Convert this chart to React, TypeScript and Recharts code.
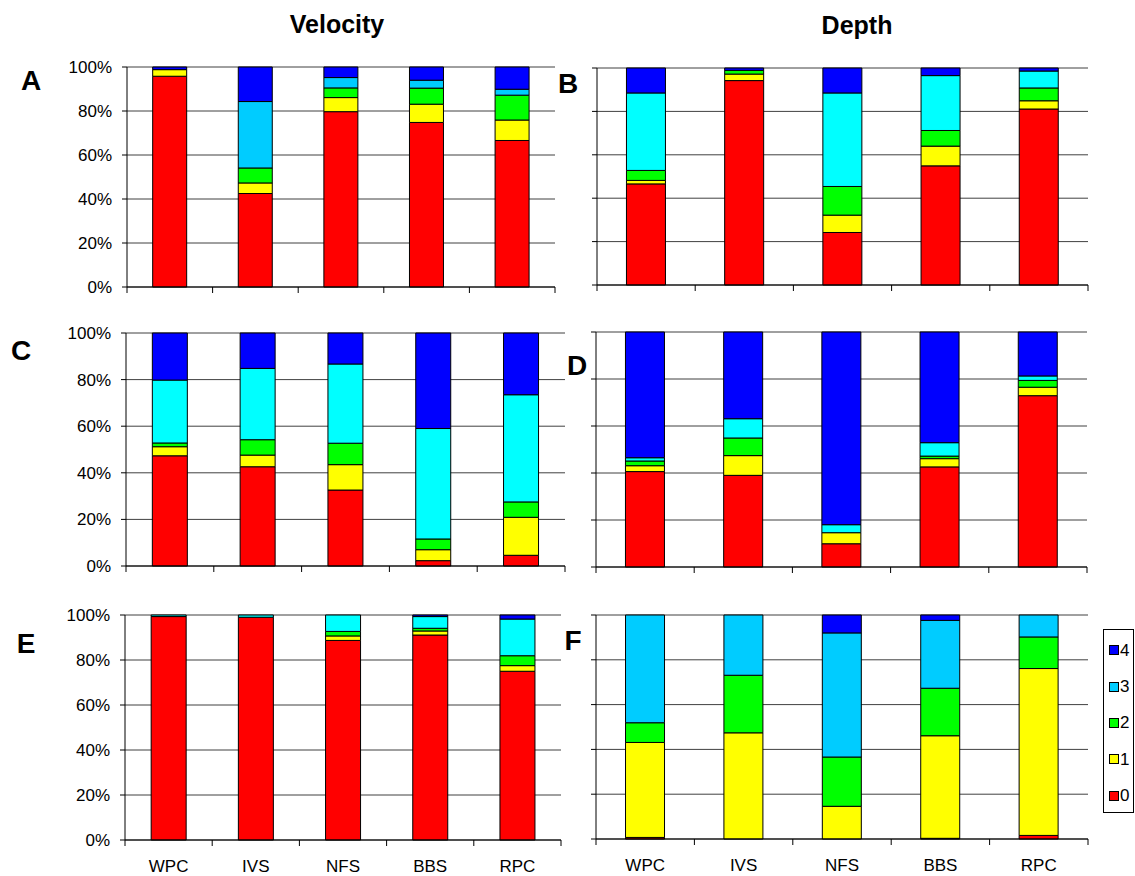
import React from "react"
import { BarChart, Bar, XAxis, YAxis, CartesianGrid, Legend } from "recharts"

const FONT = "Arial, 'Liberation Sans', Helvetica, sans-serif"

const sites = ["WPC", "IVS", "NFS", "BBS", "RPC"]
const classes = ["0", "1", "2", "3", "4"]

// rows = class 0..4, columns = sites (percent of observations)
const velocityTop = [
  [95.8, 42.5, 79.7, 74.8, 66.6],
  [3.0, 4.8, 6.4, 8.3, 9.3],
  [0, 6.8, 4.4, 7.3, 11.3],
  [0, 30.2, 4.7, 3.6, 2.7],
  [1.2, 15.7, 4.8, 6.0, 10.1],
]
const depthTop = [
  [46.6, 94.2, 24.2, 54.9, 81.1],
  [1.6, 3.0, 8.0, 9.1, 3.8],
  [4.6, 1.7, 13.2, 7.2, 5.9],
  [35.7, 0, 43.1, 25.3, 7.8],
  [11.5, 1.1, 11.5, 3.5, 1.4],
]
const velocityMid = [
  [47.3, 42.6, 32.6, 2.3, 4.6],
  [3.9, 5.0, 10.9, 4.7, 16.3],
  [1.6, 6.6, 9.2, 4.6, 6.6],
  [27.0, 30.6, 34.0, 47.4, 46.0],
  [20.2, 15.2, 13.3, 41.0, 26.5],
]
const depthMid = [
  [40.6, 39.0, 9.9, 42.6, 72.9],
  [2.5, 8.4, 4.7, 3.5, 3.6],
  [2.0, 7.5, 0, 1.1, 2.9],
  [1.4, 8.2, 3.4, 5.7, 1.9],
  [53.5, 36.9, 82.0, 47.1, 18.7],
]
const velocityLow = [
  [99.3, 99.0, 88.7, 91.1, 75.0],
  [0, 0, 2.0, 1.8, 2.5],
  [0, 0, 2.0, 1.2, 4.4],
  [0.7, 1.0, 7.3, 5.2, 16.3],
  [0, 0, 0, 0.7, 1.8],
]
const depthLow = [
  [0.7, 0, 0, 0.3, 1.6],
  [42.4, 47.4, 14.6, 45.8, 74.5],
  [8.8, 25.7, 22.0, 21.2, 14.1],
  [48.1, 26.9, 55.4, 30.3, 9.8],
  [0, 0, 8.0, 2.4, 0],
]

const yTicks = [0, 0.2, 0.4, 0.6, 0.8, 1]

const cyanColors = ["#ff0000", "#ffff00", "#00ff00", "#00ffff", "#0000ff"]
const skyColors = ["#ff0000", "#ffff00", "#00ff00", "#00ccff", "#0000ff"]

function toRows(values: number[][]) {
  return sites.map((site, i) => {
    const row: Record<string, string | number> = { site }
    classes.forEach((c, k) => {
      row["c" + c] = values[k][i]
    })
    return row
  })
}

function BoundaryTick(props: any) {
  const { x, y, payload, index, visibleTicksCount, showLabel, width } = props
  const half =
    payload && typeof payload.offset === "number" && payload.offset > 0
      ? payload.offset
      : width / visibleTicksCount / 2
  const last = index === visibleTicksCount - 1
  return (
    <g>
      <line x1={x - half} x2={x - half} y1={y} y2={y + 6} stroke="#000" />
      {last && <line x1={x + half} x2={x + half} y1={y} y2={y + 6} stroke="#000" />}
      {showLabel && (
        <text x={x} y={y + 32} textAnchor="middle" fontSize={17} fontFamily={FONT} fill="#000">
          {payload.value}
        </text>
      )}
    </g>
  )
}

function LegendBox(props: any) {
  const items = [...(props.payload ?? [])].reverse()
  return (
    <div style={{ width: 46, paddingLeft: 15, boxSizing: "border-box" }}>
      <div
        style={{
          border: "1px solid #000",
          width: 31,
          height: 184,
          boxSizing: "border-box",
          paddingTop: 2,
          background: "#fff",
          fontFamily: FONT,
          fontSize: 17,
        }}
      >
        {items.map((item: any) => (
          <div key={item.value} style={{ height: 36.4, display: "flex", alignItems: "center", paddingLeft: 5 }}>
            <span
              style={{
                display: "inline-block",
                width: 10,
                height: 10,
                background: item.color,
                border: "1px solid #000",
                boxSizing: "border-box",
                marginRight: 1,
                flexShrink: 0,
              }}
            />
            <span style={{ fontSize: 17, lineHeight: "17px", color: "#000" }}>{item.value}</span>
          </div>
        ))}
      </div>
    </div>
  )
}

type Box = { left: number; right: number; top: number; bottom: number }

function Panel({
  values,
  colors,
  box,
  yLabels,
  xLabels,
  legend,
}: {
  values: number[][]
  colors: string[]
  box: Box
  yLabels?: boolean
  xLabels?: boolean
  legend?: boolean
}) {
  const yW = yLabels ? 70 : 10
  const xH = xLabels ? 40 : 10
  const legendW = legend ? 46 : 0
  const mRight = legend ? 1 : 5
  const top = box.top - 10
  const left = box.left - yW
  const width = box.right - left + legendW + mRight
  const height = box.bottom - top + xH + 5
  const data = toRows(values)

  return (
    <div style={{ position: "absolute", left, top }}>
      <BarChart
        width={width}
        height={height}
        data={data}
        stackOffset="expand"
        barCategoryGap="30%"
        margin={{ top: 10, right: mRight, bottom: 5, left: 0 }}
      >
        <CartesianGrid vertical={false} stroke="#404040" />
        <XAxis
          dataKey="site"
          interval={0}
          height={xH}
          tickLine={false}
          tickSize={0}
          tickMargin={0}
          axisLine={{ stroke: "#000" }}
          tick={<BoundaryTick showLabel={!!xLabels} />}
        />
        <YAxis
          width={yW}
          domain={[0, 1]}
          ticks={yTicks}
          tickSize={5}
          tickMargin={10}
          axisLine={{ stroke: "#000" }}
          tickLine={{ stroke: "#000" }}
          tick={{ fontSize: 17, fill: "#000", fontFamily: FONT }}
          tickFormatter={(v: number) => (yLabels ? `${Math.round(v * 100)}%` : "")}
        />
        <YAxis
          yAxisId="border"
          orientation="right"
          width={0}
          domain={[0, 1]}
          tick={false}
          tickLine={false}
          axisLine={{ stroke: "#a0a0a0" }}
        />
        {legend && (
          <Legend
            layout="vertical"
            align="right"
            verticalAlign="top"
            wrapperStyle={{ top: 24 }}
            content={<LegendBox />}
          />
        )}
        {classes.map((c, k) => (
          <Bar
            key={c}
            dataKey={"c" + c}
            name={c}
            stackId="s"
            fill={legend ? skyColors[k] : colors[k]}
            stroke="#000"
            strokeWidth={1}
            isAnimationActive={false}
          />
        ))}
      </BarChart>
    </div>
  )
}

export default function App() {
  return (
    <div
      style={{
        position: "absolute",
        left: 0,
        top: 0,
        width: 1135,
        height: 876,
        background: "#fff",
        fontFamily: FONT,
      }}
    >
      <Panel values={velocityTop} colors={skyColors} box={{ left: 127, right: 555, top: 67, bottom: 287 }} yLabels />
      <Panel values={depthTop} colors={cyanColors} box={{ left: 597, right: 1088, top: 68, bottom: 285 }} />
      <Panel values={velocityMid} colors={cyanColors} box={{ left: 126, right: 565, top: 333, bottom: 566 }} yLabels />
      <Panel values={depthMid} colors={cyanColors} box={{ left: 596, right: 1087, top: 332, bottom: 567 }} />
      <Panel values={velocityLow} colors={cyanColors} box={{ left: 125, right: 561, top: 615, bottom: 840 }} yLabels xLabels />
      <Panel values={depthLow} colors={skyColors} box={{ left: 596, right: 1088, top: 615, bottom: 839 }} xLabels legend />

      <svg
        width={1135}
        height={876}
        style={{ position: "absolute", left: 0, top: 0, pointerEvents: "none" }}
        fontFamily={FONT}
        fontWeight="bold"
      >
        <text x={337} y={33} fontSize={25} textAnchor="middle">Velocity</text>
        <text x={857} y={34} fontSize={25} textAnchor="middle">Depth</text>
        <text x={31} y={90} fontSize={28} textAnchor="middle">A</text>
        <text x={568} y={93} fontSize={28} textAnchor="middle">B</text>
        <text x={21} y={360} fontSize={28} textAnchor="middle">C</text>
        <text x={577} y={375} fontSize={28} textAnchor="middle">D</text>
        <text x={26} y={653} fontSize={28} textAnchor="middle">E</text>
        <text x={573} y={650} fontSize={28} textAnchor="middle">F</text>
      </svg>
    </div>
  )
}
